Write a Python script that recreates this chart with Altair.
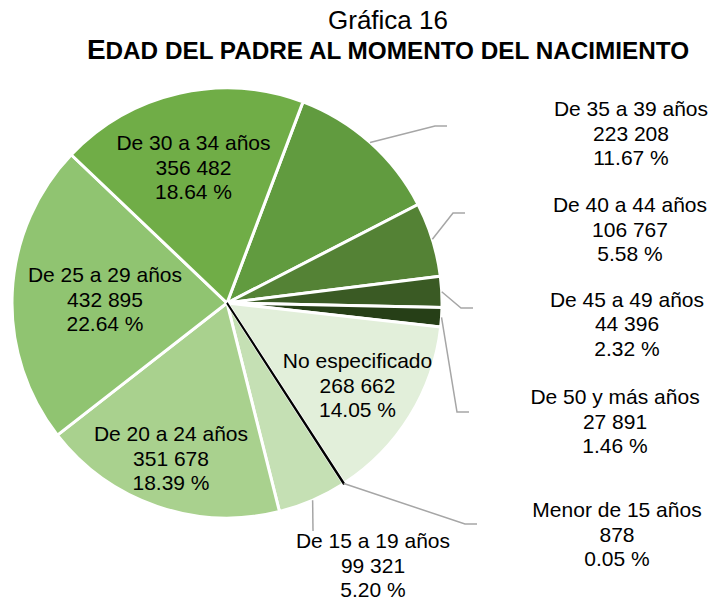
import math
import altair as alt
import pandas as pd

# ---------------- data ----------------
categories = [
    "De 35 a 39 años", "De 40 a 44 años", "De 45 a 49 años", "De 50 y más años",
    "No especificado", "Menor de 15 años", "De 15 a 19 años", "De 20 a 24 años",
    "De 25 a 29 años", "De 30 a 34 años",
]
counts = [223208, 106767, 44396, 27891, 268662, 878, 99321, 351678, 432895, 356482]
percents = ["11.67 %", "5.58 %", "2.32 %", "1.46 %", "14.05 %", "0.05 %",
            "5.20 %", "18.39 %", "22.64 %", "18.64 %"]

# ---------------- styles / layout ----------------
colors = ["#619b3f", "#548235", "#3a5a24", "#263f17", "#e2efda", "#000000",
          "#c5e0b4", "#a9d18e", "#90c471", "#70ad47"]
FONT = "Liberation Sans"
START = math.radians(20.7)
CX, CY, R = 219, 295, 215

# label first-line centres (chart pixels)
label_pos = {
    "De 30 a 34 años": (185.5, 136), "De 25 a 29 años": (97, 268),
    "De 20 a 24 años": (163, 427), "No especificado": (349.5, 354),
    "De 35 a 39 años": (623, 102), "De 40 a 44 años": (622, 198),
    "De 45 a 49 años": (619, 292.5), "De 50 y más años": (607, 390),
    "Menor de 15 años": (609, 503), "De 15 a 19 años": (365, 534),
}
# leader line elbow/end points after the anchor on the pie edge
leader_pts = {
    "De 35 a 39 años": [(427, 118), (439, 118)],
    "De 40 a 44 años": [(445, 205), (457, 205)],
    "De 45 a 49 años": [(453, 300), (465, 300)],
    "De 50 y más años": [(449, 404), (461, 404)],
    "Menor de 15 años": [(457, 516), (469, 516)],
    "De 15 a 19 años": [(305, 523)],
}

def fmt(v):
    return f"{v:,}".replace(",", " ")

slices = pd.DataFrame({
    "cat": categories,
    "count": counts,
    "order": list(range(len(categories))),
})

theta = alt.Theta("count:Q", stack=True,
                  scale=alt.Scale(range=[START, START + 2 * math.pi]))

pie = alt.Chart(slices).mark_arc(outerRadius=R, stroke="white", strokeWidth=3).encode(
    theta=theta,
    order=alt.Order("order:Q"),
    color=alt.Color("cat:N", scale=alt.Scale(domain=categories, range=colors), legend=None),
    x=alt.value(CX), y=alt.value(CY),
)

black = alt.Chart(slices).mark_arc(outerRadius=R, stroke="black", strokeWidth=2, fill="black").encode(
    theta=theta,
    order=alt.Order("order:Q"),
    opacity=alt.condition(alt.datum.cat == "Menor de 15 años", alt.value(1), alt.value(0)),
    x=alt.value(CX), y=alt.value(CY),
)

# leader lines: anchor at slice mid-angle on pie edge
total = sum(counts)
rows = []
cum = 0
for cat, c in zip(categories, counts):
    mid = START + 2 * math.pi * (cum + c / 2) / total
    cum += c
    if cat in leader_pts:
        ax = CX + R * math.sin(mid)
        ay = CY - R * math.cos(mid)
        pts = [(ax, ay)] + leader_pts[cat]
        for i, (px, py) in enumerate(pts):
            rows.append({"cat": cat, "seq": i, "px": px, "py": py})
leaders_df = pd.DataFrame(rows)

leaders = alt.Chart(leaders_df).mark_line(color="#a6a6a6", strokeWidth=1.5).encode(
    x=alt.X("px:Q", scale=None, axis=None),
    y=alt.Y("py:Q", scale=None, axis=None),
    detail="cat:N",
    order="seq:Q",
)

labels_df = pd.DataFrame({
    "text": [f"{c}\n{fmt(v)}\n{p}" for c, v, p in zip(categories, counts, percents)],
    "px": [label_pos[c][0] for c in categories],
    "py": [label_pos[c][1] for c in categories],
})

labels = alt.Chart(labels_df).mark_text(
    font=FONT, fontSize=21, lineBreak="\n", lineHeight=24.5,
    align="center", baseline="middle", color="#000000",
).encode(
    x=alt.X("px:Q", scale=None, axis=None),
    y=alt.Y("py:Q", scale=None, axis=None),
    text="text:N",
)

title_df = pd.DataFrame({"t": ["Gráfica 16"]})
title1 = alt.Chart(title_df).mark_text(
    font=FONT, fontSize=26, align="center", baseline="alphabetic", color="#000000"
).encode(x=alt.value(380), y=alt.value(21), text="t:N")

sub_e = alt.Chart(pd.DataFrame({"t": ["E"]})).mark_text(
    font=FONT, fontSize=28, fontWeight="bold", align="left", baseline="alphabetic", color="#000000"
).encode(x=alt.value(79), y=alt.value(51), text="t:N")

sub_rest = alt.Chart(pd.DataFrame({"t": ["DAD DEL PADRE AL MOMENTO DEL NACIMIENTO"]})).mark_text(
    font=FONT, fontSize=24.3, fontWeight="bold", align="left", baseline="alphabetic", color="#000000"
).encode(x=alt.value(97.5), y=alt.value(51), text="t:N")

chart = alt.layer(pie, black, leaders, labels, title1, sub_e, sub_rest).properties(
    width=701, height=593, padding=0, autosize="none"
).configure_view(stroke=None)

chart.save("out.html", embed_options={"renderer": "svg", "actions": False})
